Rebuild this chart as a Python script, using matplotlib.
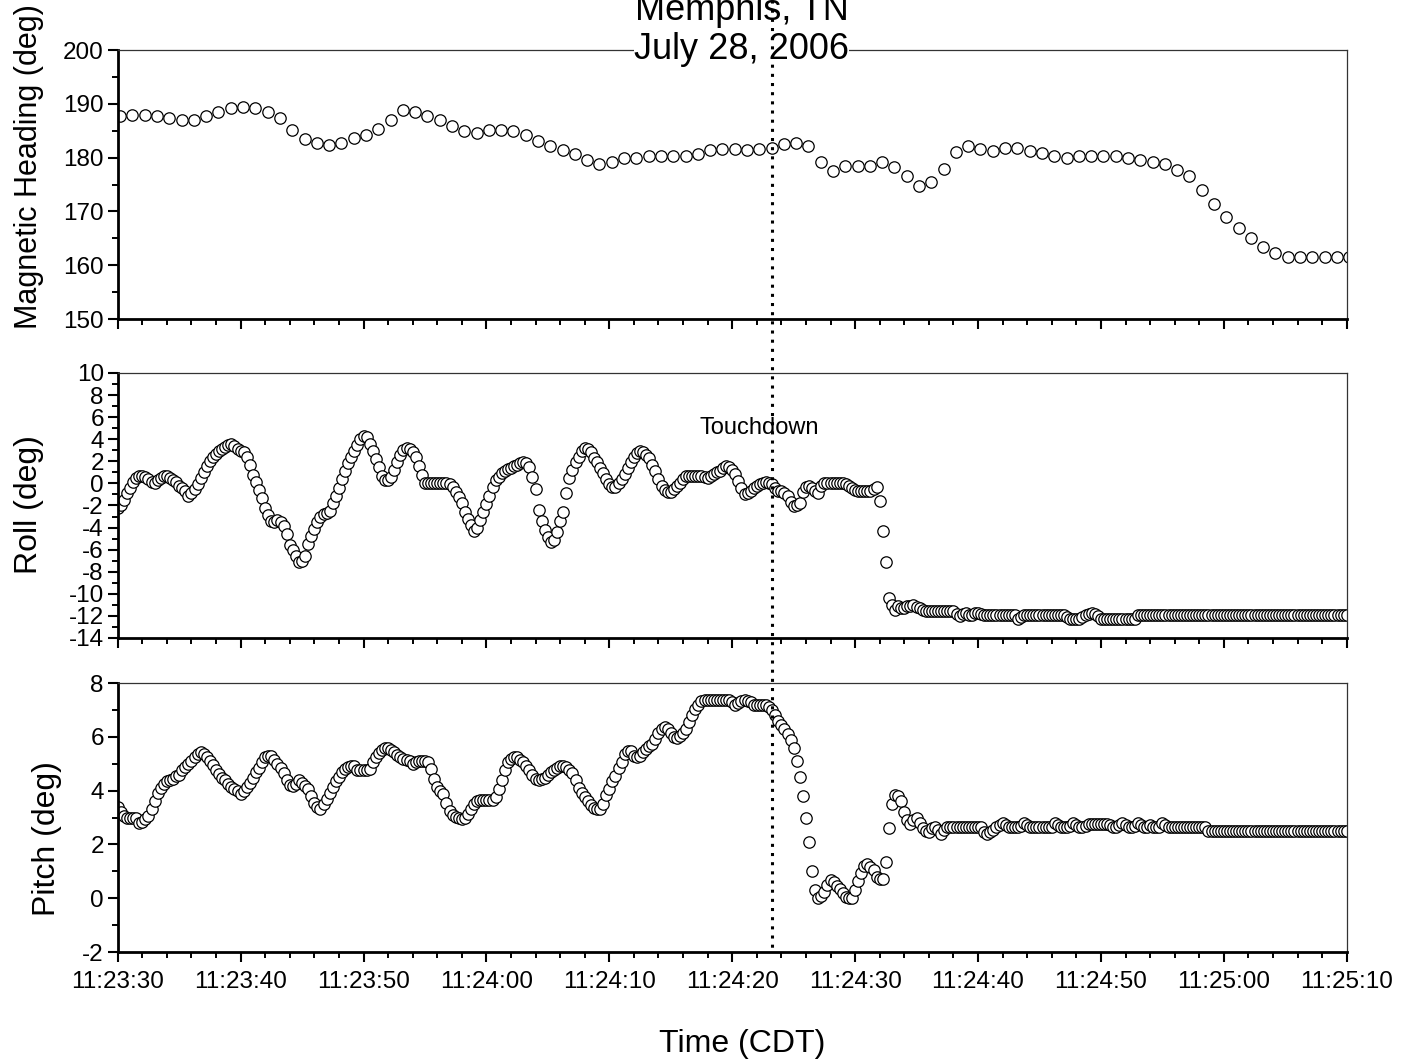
import numpy as np
import matplotlib.pyplot as plt
from matplotlib.ticker import MultipleLocator, FuncFormatter
from matplotlib.lines import Line2D
from matplotlib import transforms

plt.rcParams['font.family'] = ['Liberation Sans', 'DejaVu Sans']
plt.rcParams['axes.unicode_minus'] = False

# time axis: seconds after 11:23:30 CDT
t0 = 11 * 3600 + 23 * 60 + 30
touchdown_t = 53.2

# magnetic heading, 1 sample per second
heading_t = np.arange(101) + 0.2
heading = [
    187.7, 188.0, 188.0, 187.7, 187.4, 187.0, 187.0, 187.7, 188.4, 189.2,
    189.5, 189.2, 188.4, 187.4, 185.2, 183.5, 182.7, 182.4, 182.7, 183.6,
    184.3, 185.3, 187.0, 188.8, 188.4, 187.7, 187.0, 185.9, 185.0, 184.6,
    185.2, 185.2, 185.0, 184.2, 183.1, 182.2, 181.4, 180.7, 179.6, 178.9,
    179.2, 180.0, 180.0, 180.4, 180.3, 180.3, 180.3, 180.7, 181.4, 181.7,
    181.7, 181.4, 181.7, 181.8, 182.5, 182.8, 182.1, 179.2, 177.5, 178.5,
    178.5, 178.5, 179.2, 178.2, 176.5, 174.7, 175.4, 177.8, 181.0, 182.1,
    181.7, 181.3, 181.8, 181.8, 181.3, 180.9, 180.3, 179.9, 180.4, 180.3,
    180.3, 180.3, 179.9, 179.5, 179.2, 178.8, 177.7, 176.5, 174.0, 171.4,
    169.0, 166.9, 165.1, 163.3, 162.3, 161.6, 161.6, 161.6, 161.6, 161.6,
    161.6,
]

# roll and pitch, 4 samples per second
att_t = np.arange(401) * 0.25
roll = [
    -2.2, -2.0, -1.5, -0.9, -0.4, 0.1, 0.5, 0.7, 0.7, 0.6, 0.4, 0.1,
    0.05, 0.3, 0.5, 0.7, 0.65, 0.5, 0.3, 0.1, -0.2, -0.4, -0.7, -1.15,
    -0.9, -0.5, -0.1, 0.5, 1.0, 1.6, 2.0, 2.4, 2.7, 2.9, 3.1, 3.3,
    3.5, 3.6, 3.4, 3.1, 2.9, 2.85, 2.4, 1.7, 0.8, 0.1, -0.6, -1.3,
    -2.2, -2.9, -3.4, -3.5, -3.3, -3.5, -3.9, -4.6, -5.6, -6.0, -6.6, -7.1,
    -7.0, -6.6, -5.5, -4.8, -4.1, -3.5, -3.0, -2.8, -2.7, -2.5, -1.8, -1.1,
    -0.4, 0.4, 1.1, 1.8, 2.4, 2.9, 3.5, 4.0, 4.3, 4.2, 3.6, 2.9,
    2.2, 1.5, 0.7, 0.35, 0.3, 0.6, 1.2, 1.9, 2.6, 3.0, 3.2, 3.1,
    2.8, 2.4, 1.6, 0.8, 0.0, 0.0, 0.0, 0.0, 0.0, 0.0, 0.0, 0.0,
    -0.1, -0.35, -0.75, -1.2, -1.8, -2.6, -3.2, -3.8, -4.3, -4.0, -3.3, -2.6,
    -1.9, -1.1, -0.3, 0.3, 0.6, 0.9, 1.15, 1.3, 1.4, 1.55, 1.7, 1.85,
    1.9, 1.85, 1.5, 0.6, -0.5, -2.4, -3.4, -4.2, -4.9, -5.3, -5.1, -4.4,
    -3.4, -2.6, -0.9, 0.5, 1.2, 1.9, 2.4, 2.9, 3.2, 3.1, 2.8, 2.3,
    1.9, 1.4, 0.9, 0.4, -0.05, -0.35, -0.3, 0.05, 0.4, 0.85, 1.4, 1.95,
    2.4, 2.75, 2.9, 2.85, 2.6, 2.3, 1.7, 1.1, 0.4, -0.2, -0.6, -0.75,
    -0.8, -0.55, -0.25, 0.05, 0.4, 0.65, 0.7, 0.7, 0.7, 0.7, 0.7, 0.6,
    0.5, 0.7, 0.85, 1.0, 1.15, 1.4, 1.6, 1.5, 1.2, 0.85, 0.25, -0.4,
    -1.0, -0.9, -0.7, -0.4, -0.25, -0.1, 0.0, 0.1, 0.05, -0.1, -0.4, -0.7,
    -0.7, -0.85, -1.15, -1.7, -2.05, -2.0, -1.8, -0.8, -0.3, -0.25, -0.4, -0.7,
    -0.85, -0.25, 0.0, 0.05, 0.05, 0.05, 0.05, 0.05, 0.05, -0.1, -0.25, -0.45,
    -0.6, -0.7, -0.7, -0.7, -0.7, -0.7, -0.5, -0.3, -1.6, -4.3, -7.1, -10.4,
    -11.0, -11.5, -11.1, -11.3, -11.3, -11.1, -11.1, -11.0, -11.2, -11.3, -11.5, -11.6,
    -11.6, -11.6, -11.6, -11.6, -11.6, -11.6, -11.6, -11.6,
    -11.6, -11.8, -12.0, -11.8, -11.7, -11.9, -11.9, -11.7, -11.7, -11.8, -11.9, -11.9,
] + [-11.9] * 8 + [
    -11.9, -12.3, -12.1, -11.9,
] + [-11.9] * 12 + [
    -11.9, -12.1, -12.3, -12.3, -12.3, -12.3, -12.1, -11.9, -11.8, -11.7, -11.8, -12.0,
] + [-12.3] * 12 + [-11.9] * 69

pitch = [
    3.4, 3.2, 3.05, 2.99, 2.97, 2.97, 2.97, 2.8, 2.85, 2.95, 3.05, 3.3,
    3.6, 3.9, 4.1, 4.25, 4.35, 4.38, 4.45, 4.55, 4.6, 4.75, 4.88, 5.0,
    5.12, 5.25, 5.38, 5.45, 5.36, 5.25, 5.12, 4.95, 4.78, 4.62, 4.48, 4.38,
    4.25, 4.15, 4.08, 3.98, 3.88, 4.0, 4.15, 4.3, 4.48, 4.68, 4.86, 5.05,
    5.24, 5.3, 5.28, 5.15, 5.0, 4.85, 4.65, 4.4, 4.2, 4.19, 4.25, 4.38,
    4.3, 4.18, 4.05, 3.8, 3.55, 3.38, 3.32, 3.49, 3.7, 3.9, 4.15, 4.35,
    4.52, 4.68, 4.8, 4.88, 4.92, 4.9, 4.78, 4.75, 4.75, 4.75, 4.8, 5.05,
    5.25, 5.4, 5.52, 5.6, 5.6, 5.5, 5.42, 5.32, 5.25, 5.18, 5.15, 5.12,
    5.0, 5.05, 5.12, 5.12, 5.1, 5.06, 4.8, 4.45, 4.15, 4.0, 3.88, 3.55,
    3.25, 3.1, 3.02, 2.97, 2.95, 3.0, 3.15, 3.3, 3.5, 3.6, 3.66, 3.66,
    3.66, 3.66, 3.66, 3.75, 4.05, 4.4, 4.75, 5.05, 5.18, 5.25, 5.25, 5.15,
    5.05, 4.92, 4.78, 4.6, 4.45, 4.38, 4.42, 4.48, 4.58, 4.68, 4.75, 4.85,
    4.9, 4.9, 4.88, 4.78, 4.65, 4.4, 4.1, 3.92, 3.75, 3.6, 3.45, 3.34,
    3.32, 3.32, 3.5, 3.82, 4.07, 4.35, 4.56, 4.85, 5.05, 5.35, 5.46, 5.48,
    5.3, 5.24, 5.3, 5.45, 5.55, 5.65, 5.75, 5.92, 6.13, 6.3, 6.35, 6.3,
    6.15, 6.0, 5.96, 6.02, 6.15, 6.3, 6.55, 6.8, 7.05, 7.2, 7.34, 7.37,
    7.37, 7.37, 7.37, 7.37, 7.37, 7.37, 7.37, 7.37,
    7.3, 7.19, 7.25, 7.32, 7.37, 7.35, 7.28, 7.2, 7.19, 7.19, 7.19, 7.19,
    7.1, 7.0, 6.8, 6.6, 6.45, 6.3, 6.1, 5.9, 5.6, 5.1, 4.5, 3.8,
    3.0, 2.1, 1.0, 0.3, 0.02, 0.1, 0.25, 0.5, 0.67, 0.6, 0.45, 0.35,
    0.2, 0.05, 0.0, 0.02, 0.32, 0.65, 0.95, 1.2, 1.26, 1.18, 1.04, 0.8,
    0.7, 0.72, 1.35, 2.6, 3.5, 3.85, 3.8, 3.6, 3.2, 2.9, 2.77, 2.9,
    3.0, 2.8, 2.6, 2.5, 2.46, 2.6, 2.65, 2.55, 2.4, 2.55, 2.65, 2.65,
] + [2.65] * 8 + [
    2.65, 2.65, 2.45, 2.4, 2.46, 2.55, 2.65, 2.72, 2.79, 2.72, 2.65, 2.65,
    2.65, 2.65, 2.7, 2.79, 2.72, 2.65, 2.65, 2.65, 2.65, 2.65, 2.65, 2.65,
    2.65, 2.79, 2.72, 2.65, 2.65, 2.65, 2.7, 2.79, 2.72, 2.65, 2.65, 2.7,
    2.77, 2.77, 2.77, 2.77, 2.77, 2.77, 2.77, 2.72, 2.65, 2.65, 2.72, 2.79,
    2.72, 2.65, 2.65, 2.7, 2.79, 2.72, 2.65, 2.65, 2.72, 2.65, 2.65, 2.65,
    2.79, 2.72, 2.65, 2.65,
] + [2.65] * 8 + [2.65, 2.65, 2.65, 2.5] + [2.5] * 45


def clock(x, pos):
    s = int(round(t0 + x))
    return f"{s // 3600}:{s % 3600 // 60:02d}:{s % 60:02d}"


fig = plt.figure(figsize=(14.13, 10.61), dpi=100)
left, width = 0.0833, 0.8698
ax1 = fig.add_axes([left, 0.6993, width, 0.2535])
ax2 = fig.add_axes([left, 0.3987, width, 0.2498])
ax3 = fig.add_axes([left, 0.1027, width, 0.2535])

mk = dict(marker='o', ms=8.2, mfc='white', mec='black', mew=0.9, ls='none')
ax1.plot(heading_t, heading, **mk)
ax2.plot(att_t, roll, **mk)
ax3.plot(att_t, pitch, **mk)

ax1.set_ylim(150, 200)
ax1.yaxis.set_major_locator(MultipleLocator(10))
ax1.yaxis.set_minor_locator(MultipleLocator(5))
ax2.set_ylim(-14, 10)
ax2.yaxis.set_major_locator(MultipleLocator(2))
ax2.yaxis.set_minor_locator(MultipleLocator(1))
ax3.set_ylim(-2, 8)
ax3.yaxis.set_major_locator(MultipleLocator(2))
ax3.yaxis.set_minor_locator(MultipleLocator(1))

for ax in (ax1, ax2, ax3):
    ax.set_xlim(0, 100)
    ax.xaxis.set_major_locator(MultipleLocator(10))
    ax.xaxis.set_minor_locator(MultipleLocator(2))
    ax.xaxis.set_major_formatter(FuncFormatter(clock))
    ax.tick_params(which='major', direction='out', length=7.5, width=1.5,
                   labelsize=17.5, pad=2.5)
    ax.tick_params(which='minor', direction='out', length=4.2, width=1.4)
    for s in ('left', 'bottom'):
        ax.spines[s].set_linewidth(2)
    for s in ('top', 'right'):
        ax.spines[s].set_linewidth(0.9)
        ax.spines[s].set_color('#333333')
ax1.tick_params(labelbottom=False)
ax2.tick_params(labelbottom=False)
ax3.tick_params(axis='x', which='major', pad=6)

ax2.text(52.2, 5.0, 'Touchdown', ha='center', va='center', fontsize=17)

# y labels placed by hand (not centred on the axes in the original)
fig.text(29 / 1413, 1 - 167 / 1061, 'Magnetic Heading (deg)', rotation=90,
         ha='center', va='center', fontsize=22)
fig.text(29 / 1413, 1 - 505 / 1061, 'Roll (deg)', rotation=90,
         ha='center', va='center', fontsize=23)
fig.text(47 / 1413, 1 - 839 / 1061, 'Pitch (deg)', rotation=90,
         ha='center', va='center', fontsize=23)
fig.text(742 / 1413, 1 - 1044 / 1061, 'Time (CDT)', ha='center', va='center',
         fontsize=23)

# baseline of the last line sits at y = 59 px; first line runs off the top
fig.text(742 / 1413, 1 - 59 / 1061, 'Memphis, TN\nJuly 28, 2006', ha='center',
         va='baseline', fontsize=26, linespacing=1.15,
         bbox=dict(facecolor='white', edgecolor='none', pad=0))

# touchdown marker through all three panels
tr = transforms.blended_transform_factory(ax3.transData, fig.transFigure)
fig.add_artist(Line2D([touchdown_t, touchdown_t], [1.0, 1 - 948 / 1061],
                      transform=tr, ls=(0, (1, 2)), lw=2.2, color='black',
                      zorder=5))

fig.savefig('out.png', dpi=100)
